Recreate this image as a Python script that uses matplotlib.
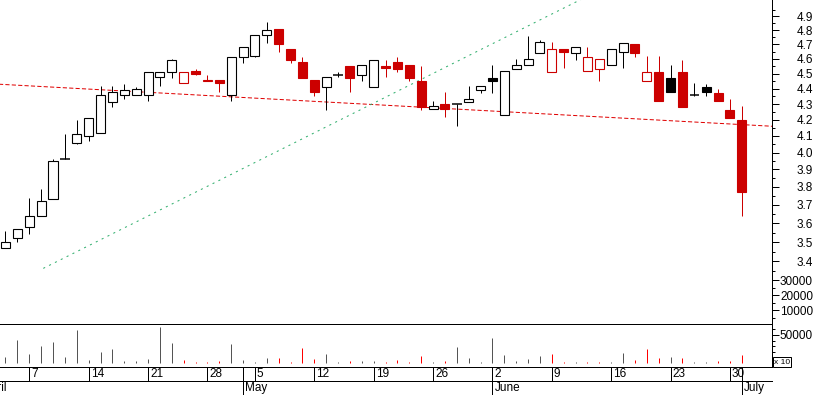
import numpy as np
import pandas as pd
import matplotlib
matplotlib.use('Agg')
import matplotlib.pyplot as plt
from matplotlib.ticker import NullFormatter
from matplotlib.transforms import ScaledTranslation

plt.rcParams['font.family'] = ['Liberation Sans', 'DejaVu Sans']
plt.rcParams['lines.scale_dashes'] = False

# trading calendar (1 May closed); candles start on 3 April
trade_days = pd.bdate_range('2014-04-01', '2014-07-01')
trade_days = trade_days[trade_days != pd.Timestamp('2014-05-01')]
first_bar = 2

opens = [3.47, 3.52, 3.58, 3.64, 3.73, 3.96, 4.06, 4.10, 4.12, 4.31,
         4.36, 4.36, 4.36, 4.48, 4.51, 4.44, 4.52, 4.45, 4.46, 4.36,
         4.61, 4.62, 4.77, 4.81, 4.67, 4.58, 4.46, 4.41, 4.49, 4.55,
         4.49, 4.41, 4.55, 4.58, 4.56, 4.45, 4.27, 4.30, 4.30, 4.31,
         4.39, 4.47, 4.23, 4.53, 4.56, 4.64, 4.51, 4.67, 4.64, 4.52,
         4.53, 4.56, 4.65, 4.70, 4.45, 4.51, 4.47, 4.51, 4.36, 4.41,
         4.37, 4.26, 4.20]
highs = [3.56, 3.57, 3.74, 3.79, 3.96, 4.11, 4.20, 4.21, 4.42, 4.42,
         4.43, 4.41, 4.51, 4.51, 4.60, 4.51, 4.53, 4.49, 4.46, 4.61,
         4.68, 4.77, 4.86, 4.81, 4.67, 4.61, 4.46, 4.48, 4.51, 4.55,
         4.56, 4.59, 4.59, 4.61, 4.56, 4.55, 4.32, 4.38, 4.30, 4.42,
         4.42, 4.56, 4.52, 4.60, 4.76, 4.73, 4.72, 4.67, 4.68, 4.68,
         4.60, 4.67, 4.71, 4.70, 4.62, 4.62, 4.56, 4.59, 4.44, 4.43,
         4.40, 4.33, 4.29]
lows = [3.47, 3.50, 3.54, 3.64, 3.73, 3.96, 4.05, 4.07, 4.12, 4.28,
        4.33, 4.36, 4.32, 4.42, 4.47, 4.44, 4.49, 4.45, 4.38, 4.32,
        4.57, 4.61, 4.71, 4.65, 4.57, 4.47, 4.35, 4.26, 4.48, 4.38,
        4.45, 4.41, 4.48, 4.51, 4.45, 4.26, 4.27, 4.22, 4.16, 4.31,
        4.37, 4.37, 4.23, 4.53, 4.56, 4.64, 4.51, 4.54, 4.59, 4.52,
        4.45, 4.56, 4.54, 4.61, 4.45, 4.32, 4.38, 4.28, 4.35, 4.35,
        4.32, 4.21, 3.64]
closes = [3.50, 3.57, 3.64, 3.72, 3.95, 3.96, 4.11, 4.21, 4.36, 4.38,
          4.39, 4.40, 4.51, 4.51, 4.59, 4.51, 4.50, 4.46, 4.44, 4.61,
          4.68, 4.77, 4.80, 4.70, 4.59, 4.47, 4.38, 4.48, 4.49, 4.47,
          4.56, 4.59, 4.54, 4.53, 4.47, 4.28, 4.29, 4.27, 4.30, 4.33,
          4.42, 4.45, 4.52, 4.56, 4.60, 4.72, 4.67, 4.65, 4.68, 4.61,
          4.60, 4.67, 4.71, 4.64, 4.51, 4.32, 4.38, 4.28, 4.36, 4.38,
          4.32, 4.21, 3.77]
volumes = [11800, 40900, 16300, 30300, 37400, 11800, 58400, 5800, 19800, 25100,
           4700, 4700, 7500, 64400, 35600, 5800, 3000, 1800, 4700, 34600,
           5800, 3000, 9300, 9300, 3000, 27500, 7500, 17000, 3000, 4700,
           4700, 4700, 1800, 5800, 3000, 13500, 3000, 4700, 29300, 10000,
           3000, 45100, 15300, 4700, 7500, 13500, 17000, 3000, 3000, 1800,
           1800, 3000, 18800, 6500, 25100, 10000, 11800, 10000, 3000, 3000,
           4700, 4700, 15300]

# trend lines drawn on the chart (bar position, price)
resist_x = [1.0, 67.0]
resist_y = [4.431, 4.158]
support_x = [5.18, 52.06]
support_y = [3.365, 5.098]

W, H = 817, 395
BLACK = '#000000'
RED = '#cc0000'
PX = 0.72  # one pixel in points


def rect(x0, y0, x1, y1):
    return [x0 / W, 1 - y1 / H, (x1 - x0) / W, (y1 - y0) / H]


fig = plt.figure(figsize=(W / 100, H / 100), dpi=100)
ax = fig.add_axes(rect(0, 0, 772, 324))
axv = fig.add_axes(rect(0, 324, 772, 367))
axd = fig.add_axes(rect(0, 367, 772, 395))

pos = np.arange(len(closes)) + first_bar
o = np.array(opens)
c = np.array(closes)
prev = np.concatenate([[c[0] - 1], c[:-1]])
colors = [BLACK if c[i] >= prev[i] else RED for i in range(len(c))]

# candles
ax.vlines(pos, lows, highs, colors=colors, lw=PX, zorder=2)
for i, p in enumerate(pos):
    col = colors[i]
    if o[i] == c[i]:
        ax.hlines(c[i], p - 0.4, p + 0.4, colors=col, lw=1.5 * PX, zorder=3)
        continue
    face = 'white' if c[i] > o[i] else col
    ax.bar(p, abs(c[i] - o[i]), bottom=min(o[i], c[i]), width=0.76,
           facecolor=face, edgecolor=col, linewidth=1.1 * PX, zorder=3)

ax.plot(resist_x, resist_y, color='#e00000', lw=PX, dashes=(3.0, 1.6), zorder=1)
ax.plot(support_x, support_y, color='#2fae6c', lw=PX, dashes=(1.5, 3.2), zorder=1)

xlim = (first_bar - 0.463, first_bar + 64.54)
ax.set_yscale('log')
ax.set_ylim(3.097, 5.022)
major = np.round(np.arange(3.4, 4.95, 0.1), 2)
minor = np.round(np.arange(3.35, 5.01, 0.1), 2)
ax.set_yticks(major, [f'{t:.1f}' for t in major])
ax.set_yticks(minor, minor=True)
ax.yaxis.set_minor_formatter(NullFormatter())

# volume scale sitting in the lower part of the price panel
axo = ax.twinx()
axo.set_ylim(667, 216667)
axo.set_yticks([10000, 20000, 30000], ['10000', '20000', '30000'])
axo.set_yticks([5000, 15000, 25000], minor=True)
axo.yaxis.set_minor_formatter(NullFormatter())

# volume panel
vol_colors = ['#555555' if col == BLACK else '#ff0000' for col in colors]
axv.vlines(pos, 0, volumes, colors=vol_colors, lw=PX)
axv.set_ylim(-6140, 68770)
axv.set_yticks([50000], ['50000'])
axv.set_yticks(np.arange(0, 60001, 10000), minor=True)
axv.yaxis.set_minor_formatter(NullFormatter())

for a in (ax, axo, axv):
    a.set_xlim(*xlim)
    a.set_xticks([])
    a.yaxis.tick_right()
    a.tick_params(axis='y', which='major', length=5, width=PX, pad=24.5,
                  labelsize=8.5, colors=BLACK)
    a.tick_params(axis='y', which='minor', length=2.5, width=PX)
    for lab in a.get_yticklabels():
        lab.set_horizontalalignment('right')
    for s in a.spines.values():
        s.set_visible(False)
    a.patch.set_alpha(0)

ax.spines['right'].set_visible(True)
ax.spines['right'].set_linewidth(PX)
for s in ('right', 'top', 'bottom'):
    axv.spines[s].set_visible(True)
    axv.spines[s].set_linewidth(PX)

fig.text(782 / W, 1 - 362 / H, 'x 10', fontsize=6, ha='center', va='center',
         bbox=dict(boxstyle='square,pad=0.15', fc='white', ec=BLACK, lw=PX))

# date rows
axd.set_xlim(*xlim)
axd.set_ylim(0, 1)
axd.axis('off')
axd.plot(xlim, [0.5, 0.5], color=BLACK, lw=PX, clip_on=False)
shift = ScaledTranslation(2 / 100, 0, fig.dpi_scale_trans)
for k, d in enumerate(trade_days):
    if d.dayofweek == 0:
        axd.plot([k, k], [0.5, 1], color=BLACK, lw=PX)
        axd.text(k, 0.74, str(d.day), fontsize=8.5, va='center', ha='left',
                 transform=axd.transData + shift, clip_on=True)
    if k == 0 or d.month != trade_days[k - 1].month:
        axd.plot([k, k], [0, 1], color=BLACK, lw=PX)
        axd.text(k, 0.24, d.strftime('%B'), fontsize=8.5, va='center', ha='left',
                 transform=axd.transData + shift, clip_on=True)

fig.savefig('out.png', dpi=100)
